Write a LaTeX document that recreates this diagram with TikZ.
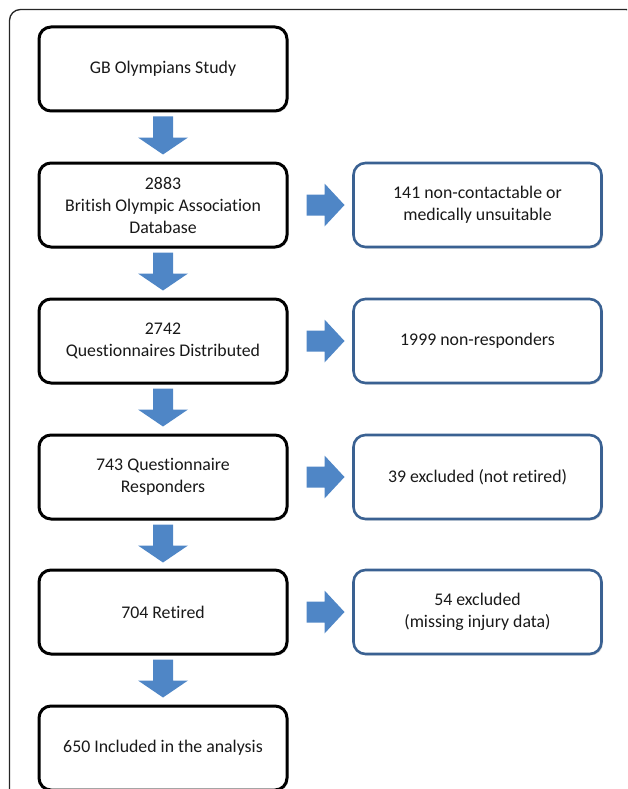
\documentclass[tikz,border=0pt]{standalone}
\usepackage{fontspec}
\setmainfont{Carlito}[Ligatures={NoCommon}]
\usetikzlibrary{calc,shadows}
\definecolor{arrowblue}{RGB}{79,134,198}
\definecolor{boxblue}{RGB}{58,97,146}
\begin{document}
\begin{tikzpicture}[x=1pt,y=1pt,
  basebox/.style={rounded corners=12pt, minimum width=248pt, minimum height=84pt,
    align=center, font=\fontsize{17.8}{22}\selectfont, fill=white, inner sep=0pt,
    text=black!90,
    drop shadow={shadow xshift=1.5pt, shadow yshift=-1.5pt, opacity=0.25}},
  mainbox/.style={basebox, draw=black, line width=3pt},
  sidebox/.style={basebox, draw=boxblue, line width=2.6pt},
  blk/.style={fill=arrowblue, draw=none},
  pics/darr/.style={code={
    \fill[blk] (-10,0) -- (10,0) -- (10,-21) -- (25,-21) -- (0,-38) -- (-25,-21) -- (-10,-21) -- cycle;}},
  pics/rarr/.style={code={
    \fill[blk] (0,10.5) -- (18,10.5) -- (18,21.5) -- (38,0) -- (18,-21.5) -- (18,-10.5) -- (0,-10.5) -- cycle;}}
]
\useasboundingbox (0,0) rectangle (627,-789);
\begin{scope}
\clip (0,0) rectangle (627,-789);
\draw[line width=1.3pt, draw=black!85, rounded corners=11pt] (9.5,-9.5) rectangle (637,-820);
\end{scope}

\node[mainbox] (b1) at (163,-69) {GB Olympians Study};
\node[mainbox] (b2) at (163,-205) {2883\\British Olympic Association\\Database};
\node[mainbox] (b3) at (163,-341) {2742\\Questionnaires Distributed};
\node[mainbox] (b4) at (163,-477) {743 Questionnaire\\Responders};
\node[mainbox] (b5) at (163,-612) {704 Retired};
\node[mainbox] (b6) at (163,-748) {650 Included in the analysis};

\node[sidebox] (s2) at (477.5,-205) {141 non-contactable or\\medically unsuitable};
\node[sidebox] (s3) at (477.5,-341) {1999 non-responders};
\node[sidebox] (s4) at (477.5,-477) {39 excluded (not retired)};
\node[sidebox] (s5) at (477.5,-612) {54 excluded\\(missing injury data)};

\foreach \a in {1,...,5}{
  \pic at ($(b\a.south)+(0,-4)$) {darr};
}
\foreach \a in {2,...,5}{
  \pic at ($(b\a.east)+(18,0)$) {rarr};
}
\end{tikzpicture}
\end{document}
